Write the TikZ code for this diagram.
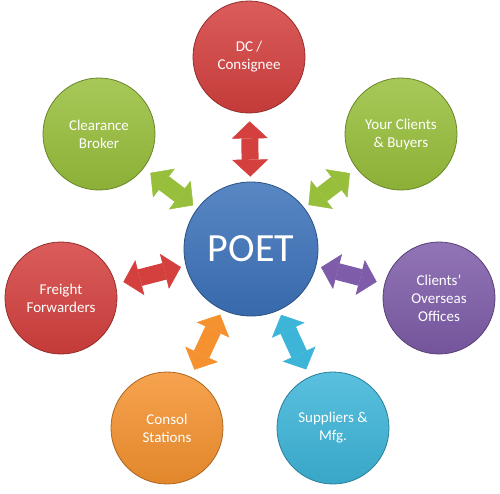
\documentclass[tikz,border=0pt]{standalone}
\usepackage{fontspec}
\setmainfont{Carlito}
\usepackage{tikz}
\usetikzlibrary{arrows.meta,positioning}

\definecolor{poetblue}{HTML}{3C72BA}
\definecolor{brickred}{HTML}{D4403E}
\definecolor{leafgreen}{HTML}{98BF3B}
\definecolor{plum}{HTML}{7E5CA9}
\definecolor{aqua}{HTML}{3DB5D9}
\definecolor{tangerine}{HTML}{F5922F}

\begin{document}
\begin{tikzpicture}[
    x=1pt, y=1pt,
    hub/.style={circle, draw=#1!70!black, line width=0.8pt, top color=#1!85!white, bottom color=#1!92!black, text=white, minimum size=112pt, inner sep=0pt, align=center, font=\fontsize{15}{18}\selectfont},
    tip/.style={Triangle[width=36pt, length=17pt, line width=0.5pt]},
    link/.style={draw=#1, line width=17pt, {Triangle[width=36pt, length=17pt, line width=0.5pt]}-{Triangle[width=36pt, length=17pt, line width=0.5pt]}, shorten <=5pt, shorten >=8pt}
]
    \useasboundingbox (-251,-244) rectangle (249,249);

    % Centre
    \node[hub=poetblue, minimum size=134pt, font=\fontsize{40}{46}\selectfont] (poet) at (0,0) {POET};

    % Partners around the centre
    \node[hub=brickred] (dc) at (-2,192) {DC /\\Consignee};
    \node[hub=leafgreen] (buyers) at (150,115) {Your Clients\\\& Buyers};
    \node[hub=plum] (overseas) at (188,-49) {Clients’\\Overseas\\Offices};
    \node[hub=aqua] (suppliers) at (82,-179) {Suppliers \&\\Mfg.};
    \node[hub=tangerine] (consol) at (-84,-179) {Consol\\Stations};
    \node[hub=brickred] (freight) at (-190,-49) {Freight\\Forwarders};
    \node[hub=leafgreen] (broker) at (-152,115) {Clearance\\Broker};

    % Two-way arrows
    \draw[link=brickred] (poet) -- (dc);
    \draw[link=leafgreen] (poet) -- (buyers);
    \draw[link=plum] (poet) -- (overseas);
    \draw[link=aqua] (poet) -- (suppliers);
    \draw[link=tangerine] (poet) -- (consol);
    \draw[link=brickred] (poet) -- (freight);
    \draw[link=leafgreen] (poet) -- (broker);
\end{tikzpicture}
\end{document}
